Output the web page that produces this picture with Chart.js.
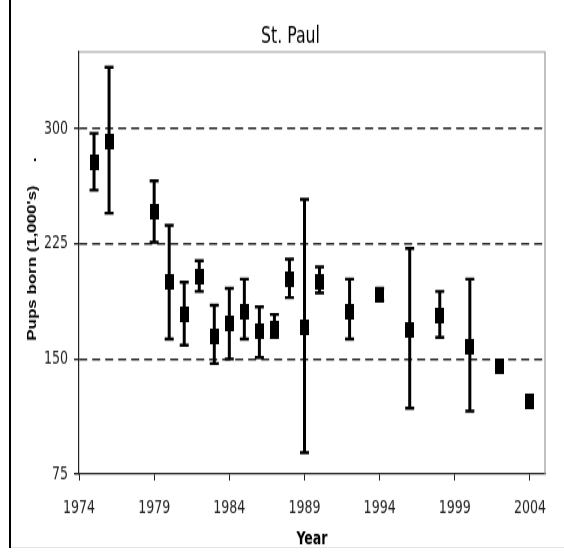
<!DOCTYPE html>
<html>
<head>
<meta charset="utf-8">
<script src="https://cdn.jsdelivr.net/npm/chart.js@4.4.0/dist/chart.umd.min.js"></script>
<style>
  html, body { margin: 0; padding: 0; background: #fff; }
  #page { position: relative; width: 564px; height: 552px; overflow: hidden; background: #fff; }
  /* the source picture is stretched vertically, so the chart is too */
  #wrap { position: absolute; left: 0; top: 0; width: 564px; height: 425px;
          transform: scaleY(1.2988); transform-origin: 0 0; }
  #edge { position: absolute; left: 9px; top: 0; width: 2px; height: 548px; background: #000; }
  #foot { position: absolute; left: 11px; top: 547px; width: 553px; height: 1px; background: #e2e2e2; }
</style>
</head>
<body>
<div id="page">
  <div id="wrap"><canvas id="chart"></canvas></div>
  <div id="edge"></div>
  <div id="foot"></div>
</div>
<script>
"use strict"

// survey years and pup counts (thousands), with error bar bounds
const years = [1975, 1976, 1979, 1980, 1981, 1982, 1983, 1984, 1985, 1986, 1987,
               1988, 1989, 1990, 1992, 1994, 1996, 1998, 2000, 2002, 2004];
const pups  = [278, 292, 246, 200, 179, 204, 165, 173, 181, 168, 170,
               202, 171, 200, 181, 192, 169, 178, 158, 145, 122];
const upper = [297, 340, 266, 237, 200, 214, 185, 196, 202, 184, 179,
               215, 254, 210, 202, 196, 222, 194, 202, null, null];
const lower = [260, 245, 226, 163, 159, 194, 147, 150, 163, 151, 164,
               190, 89, 193, 163, 188, 118, 164, 116, null, null];

const xTicks = [1974, 1979, 1984, 1989, 1994, 1999, 2004];
const yTicks = [75, 150, 225, 300];

const NARROW = "'DejaVu Sans Condensed', 'Liberation Sans', sans-serif";
const WIDE = "'Liberation Sans', Arial, sans-serif";

// black rectangular marker
const marker = document.createElement('canvas');
marker.width = 9;
marker.height = 12;
const mctx = marker.getContext('2d');
mctx.fillStyle = '#000';
mctx.fillRect(0, 0, 9, 12);

// draw the error bars under the markers
const errorBars = {
    id: 'errorBars',
    beforeDatasetsDraw(chart) {
        const {ctx, scales: {x, y}} = chart;
        ctx.save();
        ctx.strokeStyle = '#000';
        ctx.lineCap = 'butt';
        years.forEach((yr, i) => {
            if (upper[i] == null) return;
            const px = x.getPixelForValue(yr);
            const top = y.getPixelForValue(upper[i]);
            const bot = y.getPixelForValue(lower[i]);
            ctx.lineWidth = 3;
            ctx.beginPath();
            ctx.moveTo(px, top);
            ctx.lineTo(px, bot);
            ctx.stroke();
            ctx.lineWidth = 2.4;
            ctx.beginPath();
            ctx.moveTo(px - 4.5, top);
            ctx.lineTo(px + 4.5, top);
            ctx.moveTo(px - 4.5, bot);
            ctx.lineTo(px + 4.5, bot);
            ctx.stroke();
        });
        ctx.restore();
    }
};

// grey top and right edges of the plot box
const plotFrame = {
    id: 'plotFrame',
    beforeDatasetsDraw(chart) {
        const {ctx, chartArea: a} = chart;
        ctx.save();
        ctx.strokeStyle = '#999';
        ctx.lineWidth = 1.2;
        ctx.beginPath();
        ctx.moveTo(a.left, a.top);
        ctx.lineTo(a.right, a.top);
        ctx.lineTo(a.right, a.bottom);
        ctx.stroke();
        ctx.restore();
    }
};

new Chart(document.getElementById('chart'), {
    type: 'scatter',
    data: {
        datasets: [{
            data: years.map((yr, i) => ({x: yr, y: pups[i]})),
            pointStyle: marker,
            pointRadius: 6,
            showLine: false
        }]
    },
    options: {
        responsive: true,
        maintainAspectRatio: false,
        animation: false,
        events: [],
        layout: {padding: {left: 36, right: 19, top: 0, bottom: 0}},
        plugins: {
            legend: {display: false},
            tooltip: {enabled: false},
            title: {
                display: true,
                text: 'St. Paul',
                color: '#000',
                font: {family: NARROW, size: 17.5, weight: 'normal'},
                padding: {top: 17.5, bottom: 1.5}
            }
        },
        scales: {
            x: {
                type: 'linear',
                min: 1974,
                max: 2005,
                afterBuildTicks: (s) => { s.ticks = xTicks.map(v => ({value: v})); },
                afterFit: (s) => { s.height = 60; },
                ticks: {
                    color: '#222',
                    font: {family: NARROW, size: 14},
                    padding: 13,
                    maxRotation: 0,
                    autoSkip: false,
                    callback: (v) => String(v)
                },
                grid: {drawOnChartArea: false, tickLength: 5, tickColor: '#222', tickWidth: 1},
                border: {color: '#222', width: 1.2},
                title: {
                    display: true,
                    text: 'Year',
                    color: '#000',
                    font: {family: NARROW, size: 14, weight: 'bold'},
                    padding: {top: 0, bottom: 1}
                }
            },
            y: {
                type: 'linear',
                min: 75,
                max: 350,
                afterBuildTicks: (s) => { s.ticks = yTicks.map(v => ({value: v})); },
                afterFit: (s) => { s.width = 43; },
                ticks: {
                    color: '#222',
                    font: {family: NARROW, size: 14},
                    padding: 6
                },
                grid: {
                    color: (c) => (c.tick && c.tick.value === 75) ? 'rgba(0,0,0,0)' : '#222',
                    lineWidth: 1.4,
                    tickLength: 5,
                    tickColor: '#222',
                    tickBorderDash: []
                },
                border: {color: '#222', width: 1.2, dash: [8, 5]},
                title: {
                    display: true,
                    text: "      Pups born (1,000's)     .",
                    color: '#000',
                    font: {family: WIDE, size: 13, weight: 'bold'},
                    padding: {top: -11.8, bottom: 0}
                }
            }
        }
    },
    plugins: [errorBars, plotFrame]
});
</script>
</body>
</html>
